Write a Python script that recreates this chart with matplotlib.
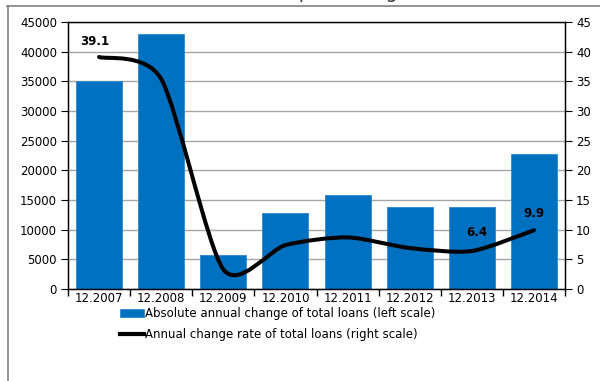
import matplotlib
matplotlib.use("Agg")
import matplotlib.pyplot as plt
from matplotlib.path import Path
from matplotlib.patches import PathPatch
from matplotlib.lines import Line2D
import numpy as np

categories = ["12.2007", "12.2008", "12.2009", "12.2010", "12.2011", "12.2012", "12.2013", "12.2014"]
abs_change = [35100, 43000, 5800, 12800, 15800, 13800, 13900, 22800]
rate_change = [39.1, 35.4, 3.3, 7.4, 8.7, 6.9, 6.4, 9.9]
labelled = {0: "39.1", 6: "6.4", 7: "9.9"}
bar_label = "Absolute annual change of total loans (left scale)"
line_label = "Annual change rate of total loans (right scale)"

plt.rcParams['font.family'] = ['DejaVu Sans']
fig = plt.figure(figsize=(6, 3.81), dpi=100)
ax = fig.add_axes([68/600, 1-289/381, (565-68)/600, (289-22)/381])
x = np.arange(len(categories))
bars = ax.bar(x, abs_change, width=0.74, color="#0070C0", edgecolor="#2F86CF", linewidth=0.6,
              zorder=2, label=bar_label)
ax.set_xlim(-0.5, len(categories)-0.5)
ax.set_ylim(0, 45000)
ax.set_yticks(np.arange(0, 45001, 5000))
ax.yaxis.grid(True, color="#A6A6A6", linewidth=1, zorder=0)
ax.set_axisbelow(True)
ax.set_xticks(x)
ax.set_xticklabels(categories)
ax.set_xticks(np.arange(-0.5, len(categories), 1), minor=True)
ax.tick_params(axis='x', which='major', length=0, pad=2.5, labelsize=8.5)
ax.tick_params(axis='x', which='minor', length=5, direction='out', width=1)
ax.tick_params(axis='y', length=5, direction='out', labelsize=8.5, pad=3)
for s in ax.spines.values():
    s.set_color("black")
    s.set_linewidth(1)

ax2 = ax.twinx()
ax2.set_ylim(0, 45)
ax2.set_yticks(np.arange(0, 46, 5))
ax2.tick_params(axis='y', length=5, direction='out', labelsize=8.5, pad=3)

# smoothed line (spreadsheet-like bezier) through the data points
pts = np.column_stack([x, rate_change]).astype(float)
k = 8.0
verts = [tuple(pts[0])]
codes = [Path.MOVETO]
n = len(pts)
for i in range(n-1):
    p0 = pts[i-1] if i > 0 else pts[i]
    p1 = pts[i]
    p2 = pts[i+1]
    p3 = pts[i+2] if i+2 < n else pts[i+1]
    c1 = p1 + (p2 - p0) / k
    c2 = p2 - (p3 - p1) / k
    verts += [tuple(c1), tuple(c2), tuple(p2)]
    codes += [Path.CURVE4]*3
patch = PathPatch(Path(verts, codes), facecolor='none', edgecolor='black', linewidth=2.9,
                  capstyle='round', zorder=3)
ax2.add_patch(patch)

offsets = {0: (-0.07, 2.55), 6: (0.08, 3.2), 7: (0.0, 2.9)}
for i, t in labelled.items():
    dx, dy = offsets[i]
    ax2.text(x[i]+dx, rate_change[i]+dy, t, ha='center', va='center', fontsize=8.5, fontweight='bold')

handles = [bars, Line2D([0], [0], color='black', linewidth=3)]
leg = fig.legend(handles, [bar_label, line_label], loc='upper left',
                 bbox_to_anchor=(120/600, 1-307/381), frameon=False, fontsize=8.5,
                 handlelength=2.0, handletextpad=0.1, labelspacing=0.66, borderpad=0, borderaxespad=0)

# outer frame of the chart area
fig.add_artist(Line2D([7/600, 1.0], [1-5.5/381, 1-5.5/381], transform=fig.transFigure, color="#808080", linewidth=1.2))
fig.add_artist(Line2D([7.5/600, 7.5/600], [0, 1-5.5/381], transform=fig.transFigure, color="#808080", linewidth=1.2))
fig.text(80/600, 1+1.5/381, "In EUR millions and in percentage", fontsize=14, color="#404040",
         va='baseline', ha='left')

fig.savefig("out.png", dpi=100)
